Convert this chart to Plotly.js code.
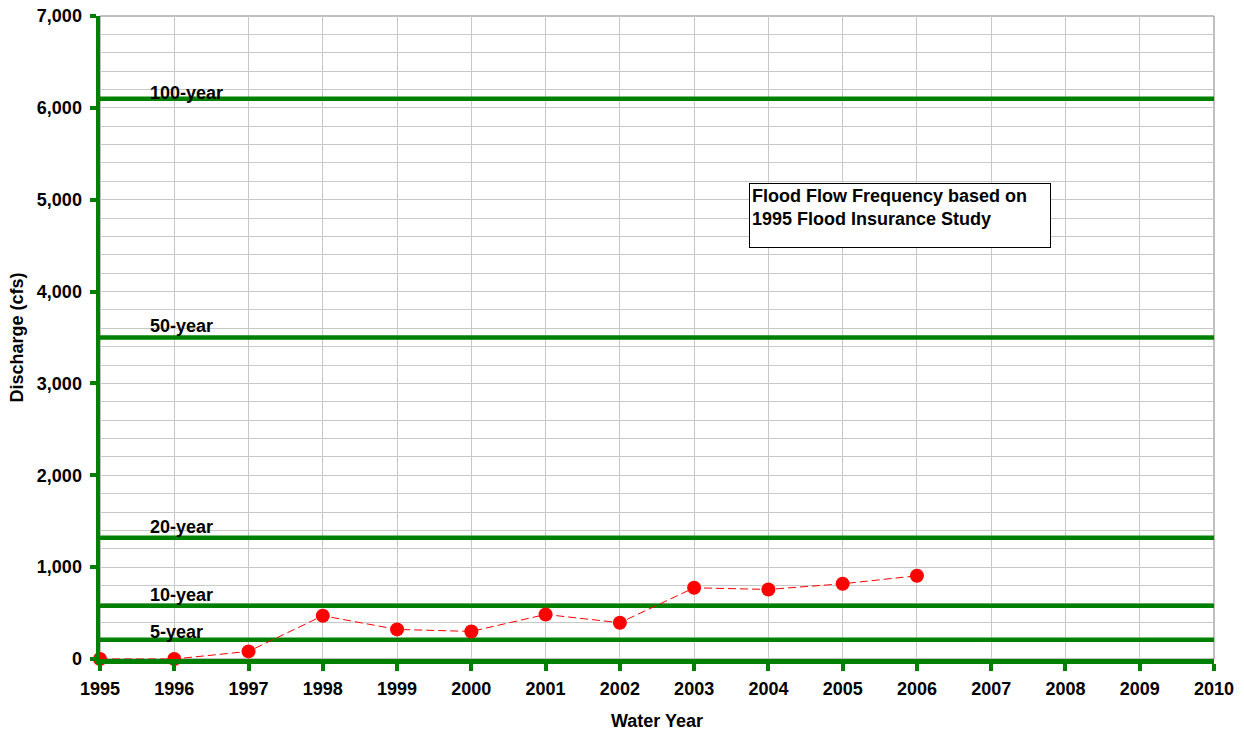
<!DOCTYPE html>
<html>
<head>
<meta charset="utf-8">
<script src="https://cdn.plot.ly/plotly-3.0.1.min.js"></script>
<style>html,body{margin:0;padding:0;background:#fff;}#chart{width:1244px;height:732px;}</style>
</head>
<body>
<div id="chart"></div>
<script>
// Observed annual peak discharge (cfs)
const years = [1995, 1996, 1997, 1998, 1999, 2000, 2001, 2002, 2003, 2004, 2005, 2006];
const discharge = [0, 0, 83, 471, 322, 300, 485, 395, 775, 757, 819, 906];

// Flood flow frequency levels (1995 Flood Insurance Study)
const floodLabels = ["5-year", "10-year", "20-year", "50-year", "100-year"];
const floodValues = [210, 580, 1320, 3500, 6100];
const floodSpan = [1995, 2010];

const boxText = "Flood Flow Frequency based on<br>1995 Flood Insurance Study";
const xTitle = "Water Year";
const yTitle = "Discharge (cfs)";

const green = "#008000";
const font = "Liberation Sans, Arial, sans-serif";
// label vertical nudges (styling only)
const labelShift = [-4, -1, -1, 0, -6];

const traces = [];
floodValues.forEach((v, i) => {
  traces.push({
    x: floodSpan, y: [v, v], mode: "lines", name: floodLabels[i],
    line: {color: green, width: 4.5}, hoverinfo: "skip", cliponaxis: false
  });
});
traces.push({
  x: years, y: discharge, mode: "lines+markers", name: "Peak discharge",
  line: {color: "#ff0000", width: 1, dash: "8px,4px"},
  marker: {color: "#ff0000", size: 14},
  cliponaxis: false
});

const annotations = floodValues.map((v, i) => ({
  x: 1995.65, y: v, xref: "x", yref: "y", text: floodLabels[i],
  showarrow: false, xanchor: "left", yanchor: "bottom", yshift: labelShift[i],
  font: {family: font, size: 18, color: "#000", weight: "bold"}
}));
annotations.push({
  x: 2003.74, y: 5180, xref: "x", yref: "y", text: boxText,
  showarrow: false, xanchor: "left", yanchor: "top", align: "left", valign: "top",
  width: 296, height: 59, bordercolor: "#000", borderwidth: 1, borderpad: 2,
  bgcolor: "#fff",
  font: {family: font, size: 18, color: "#000", weight: "bold"}
});

const layout = {
  width: 1244, height: 732,
  margin: {l: 100, r: 30, t: 16, b: 73},
  paper_bgcolor: "#fff", plot_bgcolor: "#fff",
  showlegend: false,
  font: {family: font, size: 18, color: "#000"},
  xaxis: {
    range: [1995, 2010], dtick: 1, tick0: 1995, tickformat: "d",
    showgrid: true, gridcolor: "#c8c8c8", gridwidth: 1,
    showline: true, linecolor: green, linewidth: 4.5,
    ticks: "outside", ticklen: 7, tickwidth: 4, tickcolor: green,
    ticklabelstandoff: 3,
    tickfont: {family: font, size: 18, weight: "bold"},
    zeroline: false,
    title: {text: xTitle, font: {family: font, size: 18, weight: "bold"}, standoff: 18}
  },
  yaxis: {
    range: [0, 7000], dtick: 1000, tick0: 0, tickformat: ",",
    showgrid: true, gridcolor: "#c8c8c8", gridwidth: 1,
    minor: {dtick: 200, showgrid: true, gridcolor: "#c8c8c8", gridwidth: 1},
    showline: true, linecolor: green, linewidth: 4.5,
    ticks: "outside", ticklen: 6, tickwidth: 4, tickcolor: green,
    ticklabelstandoff: 4,
    tickfont: {family: font, size: 18, weight: "bold"},
    zeroline: false,
    title: {text: yTitle, font: {family: font, size: 18, weight: "bold"}, standoff: 10}
  },
  shapes: [{
    type: "rect", xref: "paper", yref: "paper", x0: 0, x1: 1, y0: 0, y1: 1,
    line: {color: "#808080", width: 1}, layer: "below"
  }],
  annotations: annotations
};

Plotly.newPlot("chart", traces, layout, {displayModeBar: false, staticPlot: true});
</script>
</body>
</html>
